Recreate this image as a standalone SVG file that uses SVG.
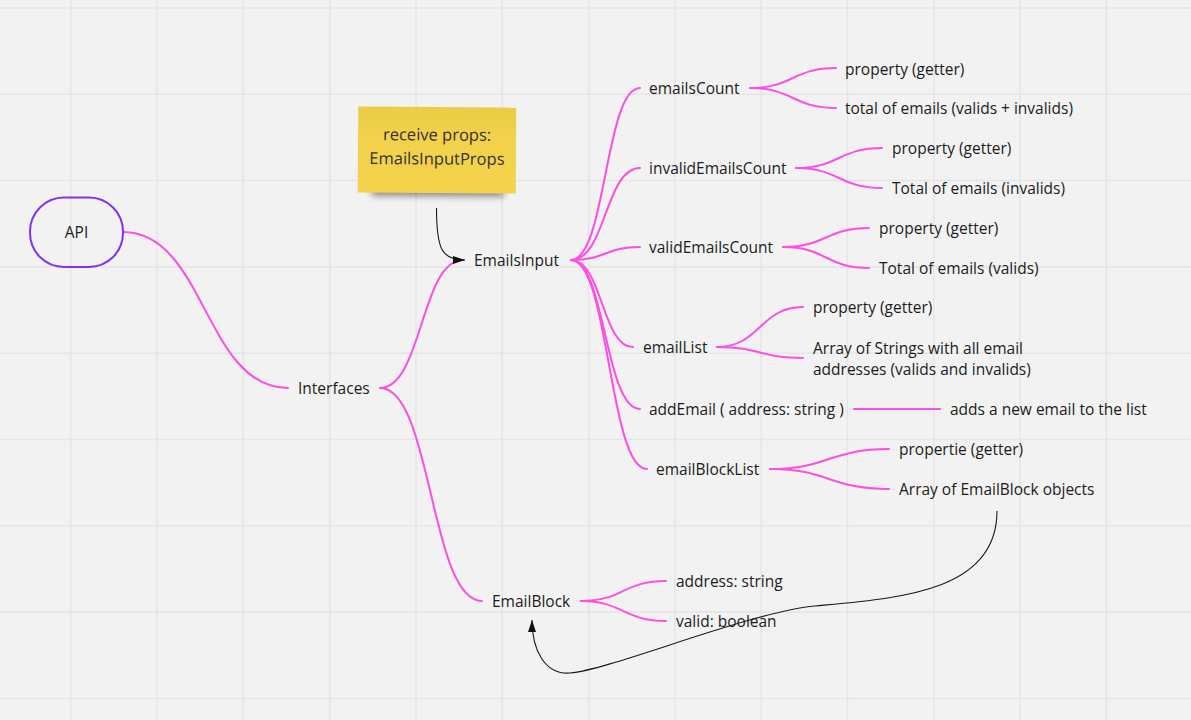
<svg xmlns="http://www.w3.org/2000/svg" width="1191" height="720" viewBox="0 0 1191 720">
<style>
  .grid line { stroke: #e5e5e5; stroke-width: 1.5; }
  .br { fill: none; stroke: #fb4fe6; stroke-width: 2; stroke-linecap: round; }
  .ln { fill: none; stroke: #1a1a1a; stroke-width: 1.1; }
  text { font-family: "Open Sans", "Noto Sans", "Liberation Sans", sans-serif; font-size: 15.5px; fill: #1c1c1c; dominant-baseline: central; }
  .sticky text { font-size: 16.5px; fill: #333333; text-anchor: middle; }
</style>
<defs>
  <marker id="ah" viewBox="0 0 12 8" refX="12" refY="4" markerWidth="12" markerHeight="8" markerUnits="userSpaceOnUse" orient="auto">
    <path d="M0,0 L12,4 L0,8 Z" fill="#111"/>
  </marker>
  <filter id="shadow" x="-20%" y="-100%" width="140%" height="300%">
    <feGaussianBlur stdDeviation="3.5"/>
  </filter>
  <linearGradient id="stk" x1="0" y1="0" x2="0" y2="1">
    <stop offset="0" stop-color="#ebcd45"/>
    <stop offset="0.35" stop-color="#f2d14b"/>
    <stop offset="1" stop-color="#f3d24c"/>
  </linearGradient>
</defs>
<rect x="0" y="0" width="1191" height="720" fill="#f2f2f2"/>
<g class="grid">
  <line x1="70.8" y1="0" x2="70.8" y2="720"/>
  <line x1="157.1" y1="0" x2="157.1" y2="720"/>
  <line x1="243.4" y1="0" x2="243.4" y2="720"/>
  <line x1="329.7" y1="0" x2="329.7" y2="720"/>
  <line x1="416" y1="0" x2="416" y2="720"/>
  <line x1="502.3" y1="0" x2="502.3" y2="720"/>
  <line x1="588.6" y1="0" x2="588.6" y2="720"/>
  <line x1="674.9" y1="0" x2="674.9" y2="720"/>
  <line x1="761.2" y1="0" x2="761.2" y2="720"/>
  <line x1="847.5" y1="0" x2="847.5" y2="720"/>
  <line x1="933.8" y1="0" x2="933.8" y2="720"/>
  <line x1="1020.1" y1="0" x2="1020.1" y2="720"/>
  <line x1="1106.4" y1="0" x2="1106.4" y2="720"/>
  <line x1="0" y1="8" x2="1191" y2="8"/>
  <line x1="0" y1="94.3" x2="1191" y2="94.3"/>
  <line x1="0" y1="180.6" x2="1191" y2="180.6"/>
  <line x1="0" y1="266.9" x2="1191" y2="266.9"/>
  <line x1="0" y1="353.2" x2="1191" y2="353.2"/>
  <line x1="0" y1="439.5" x2="1191" y2="439.5"/>
  <line x1="0" y1="525.8" x2="1191" y2="525.8"/>
  <line x1="0" y1="612.1" x2="1191" y2="612.1"/>
  <line x1="0" y1="698.4" x2="1191" y2="698.4"/>
</g>
<g id="connectors">
  <path class="br" d="M123,232 C205,232 205,388 288,388"/>
  <path class="br" d="M380,388 C422,388 421,260 463,260"/>
  <path class="br" d="M380,388 C432,388 430,601 482,601"/>
  <path class="br" d="M571,260 C606,260 605,88 640,88"/>
  <path class="br" d="M571,260 C606,260 605,168 640,168"/>
  <path class="br" d="M571,260 C606,260 605,247 640,247"/>
  <path class="br" d="M571,260 C602,260 602,347 633,347"/>
  <path class="br" d="M571,260 C605,260 605,409 640,409"/>
  <path class="br" d="M571,260 C609,260 609,469 647,469"/>
  <path class="br" d="M750,88 C793,88 793,68 836,68"/>
  <path class="br" d="M750,88 C793,88 793,108 836,108"/>
  <path class="br" d="M796,168 C839,168 839,148 882,148"/>
  <path class="br" d="M796,168 C839,168 839,188 882,188"/>
  <path class="br" d="M783,247 C826,247 826,228 869,228"/>
  <path class="br" d="M783,247 C826,247 826,268 869,268"/>
  <path class="br" d="M717,347 C760,347 760,307 803,307"/>
  <path class="br" d="M717,347 C760,347 760,358 803,358"/>
  <path class="br" d="M854,409 L940,409"/>
  <path class="br" d="M770,469 C829,469 829,449 889,449"/>
  <path class="br" d="M770,469 C829,469 829,489 889,489"/>
  <path class="br" d="M581,601 C623,601 623,581 666,581"/>
  <path class="br" d="M581,601 C623,601 623,621 666,621"/>
  <path class="ln" marker-end="url(#ah)" d="M436.5,208 C436.5,250 442,260 465,260"/>
  <path class="ln" marker-end="url(#ah)" d="M997,511 C997,592 900,598 815,606 C750,612 610,670 570,673 C545,675 532,650 532,620"/>
</g>
<g id="api">
  <rect x="30" y="197.5" width="93" height="69.5" rx="34" ry="34" fill="none" stroke="#8132f5" stroke-width="2"/>
  <text x="76.5" y="232" text-anchor="middle">API</text>
</g>
<g id="note" class="sticky" transform="rotate(0.35 437 150)">
  <rect x="372" y="186" width="132" height="10" fill="#000" opacity="0.45" filter="url(#shadow)"/>
  <rect x="358" y="107" width="158" height="86" fill="url(#stk)"/>
  <text x="437" y="134">receive props:</text>
  <text x="437" y="158">EmailsInputProps</text>
</g>
<g id="interfaces"><text x="298" y="388">Interfaces</text></g>
<g id="emailsinput"><text x="474" y="260">EmailsInput</text></g>
<g id="emailscount">
  <text x="649" y="88">emailsCount</text>
  <text x="845" y="69">property (getter)</text>
  <text x="845" y="108">total of emails (valids + invalids)</text>
</g>
<g id="invalidemailscount">
  <text x="649" y="168">invalidEmailsCount</text>
  <text x="892" y="148">property (getter)</text>
  <text x="892" y="188">Total of emails (invalids)</text>
</g>
<g id="validemailscount">
  <text x="649" y="247">validEmailsCount</text>
  <text x="879" y="228">property (getter)</text>
  <text x="879" y="268">Total of emails (valids)</text>
</g>
<g id="emaillist">
  <text x="643" y="347">emailList</text>
  <text x="813" y="307">property (getter)</text>
  <text x="813" y="348">Array of Strings with all email</text>
  <text x="813" y="369">addresses (valids and invalids)</text>
</g>
<g id="addemail">
  <text x="649" y="409">addEmail ( address: string )</text>
  <text x="950" y="409">adds a new email to the list</text>
</g>
<g id="emailblocklist">
  <text x="656" y="469">emailBlockList</text>
  <text x="899" y="449">propertie (getter)</text>
  <text x="899" y="489">Array of EmailBlock objects</text>
</g>
<g id="emailblock">
  <text x="492" y="601">EmailBlock</text>
  <text x="676" y="581">address: string</text>
  <text x="676" y="621">valid: boolean</text>
</g>
</svg>
